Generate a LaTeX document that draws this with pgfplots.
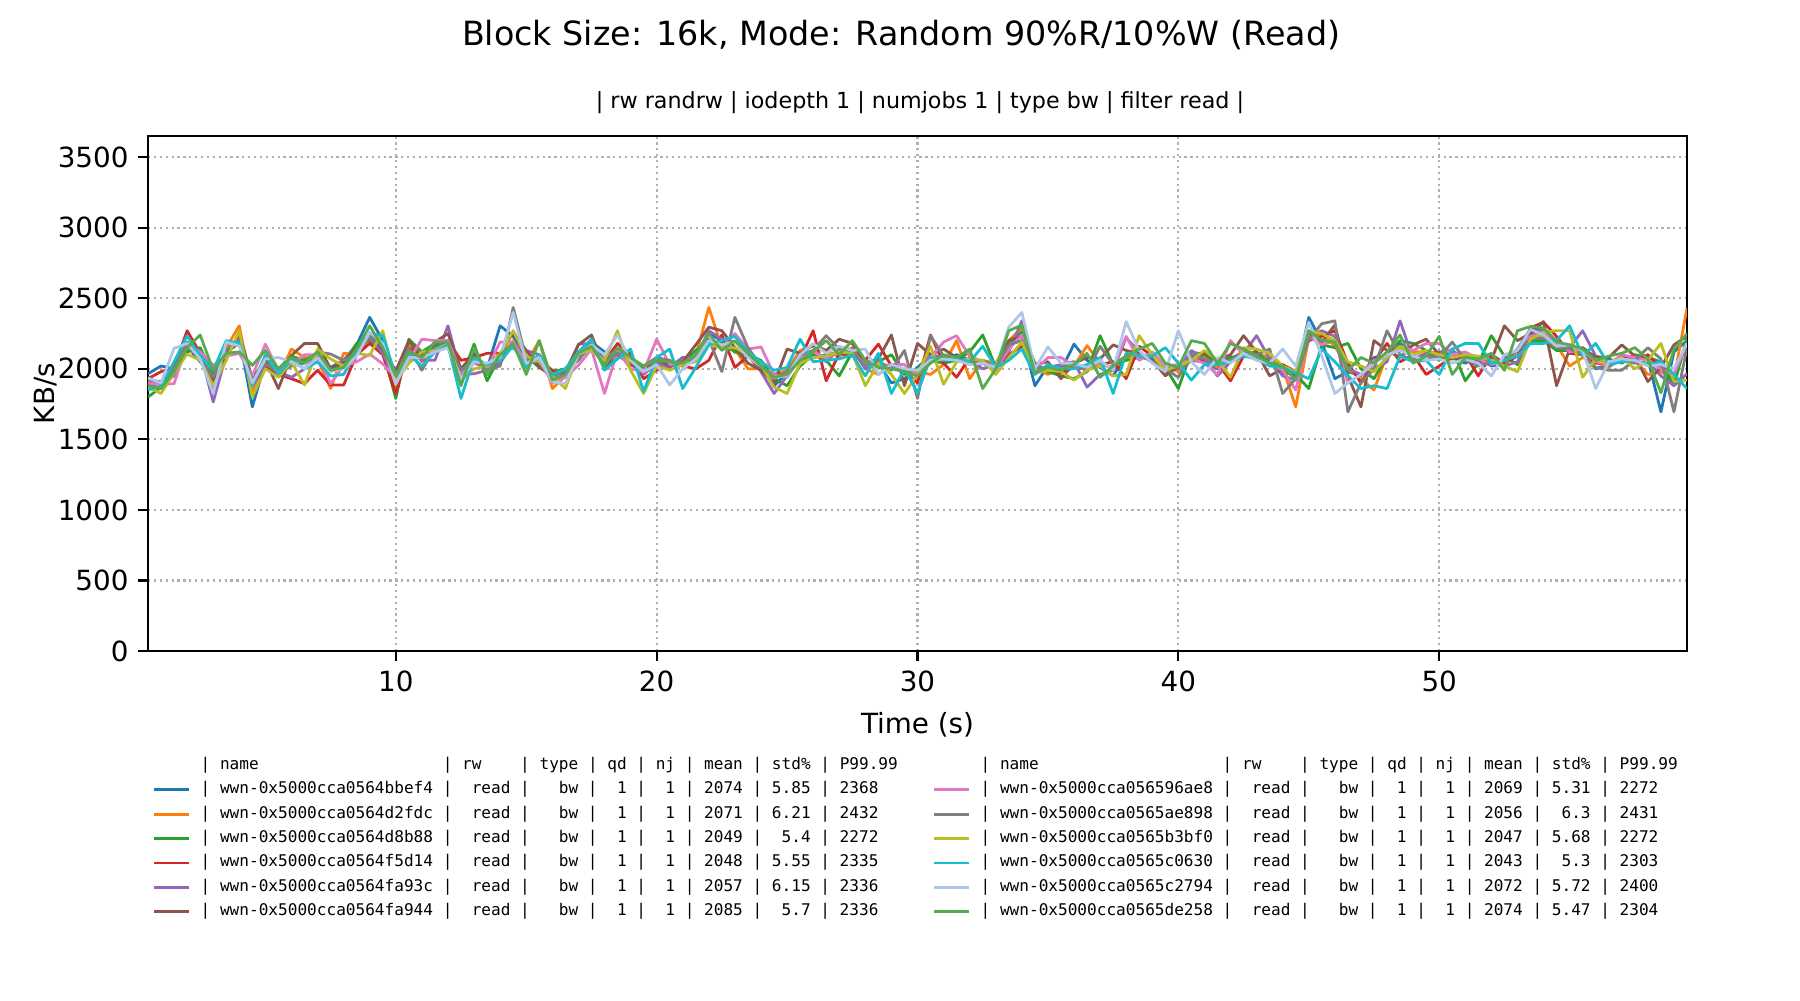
\documentclass[border=0pt]{standalone}
\usepackage{fontspec}
\setmainfont{DejaVu Sans}
\setmonofont{DejaVu Sans Mono}
\usepackage{pgfplots}
\usepackage{pgfplotstable}
\pgfplotsset{compat=1.18}

\definecolor{c1}{HTML}{1F77B4}
\definecolor{c2}{HTML}{FF7F0E}
\definecolor{c3}{HTML}{2CA02C}
\definecolor{c4}{HTML}{D62728}
\definecolor{c5}{HTML}{9467BD}
\definecolor{c6}{HTML}{8C564B}
\definecolor{c7}{HTML}{E377C2}
\definecolor{c8}{HTML}{7F7F7F}
\definecolor{c9}{HTML}{BCBD22}
\definecolor{c10}{HTML}{17BECF}
\definecolor{c11}{HTML}{AEC7E8}
\definecolor{c12}{HTML}{56AB4E}
\definecolor{gridgray}{HTML}{B0B0B0}

% read bandwidth (KB/s), one column per device
\pgfplotstableread{
t    a    b    c    d    e    f    g    h    i    j    k    l
0.5  1965 1890 1800 1930 1880 1910 1900 1920 1870 1850 1935 1880
1.0  2020 1860 1870 1980 1900 1890 1890 1910 1825 1880 1900 1860
1.5  2000 1990 1960 2010 1950 2000 1895 2000 1970 2050 2145 1980
2.0  2160 2130 2120 2270 2150 2180 2180 2190 2105 2235 2180 2150
2.5  2050 2110 2150 2110 2120 2100 2120 2080 2060 2090 2070 2240
3.0  1950 1900 1960 1870 1765 1920 2025 1940 1880 1990 1825 1990
3.5  2100 2150 2120 2110 2100 2080 2090 2140 2060 2200 2190 2110
4.0  2230 2305 2180 2200 2230 2250 2110 2200 2270 2180 2160 2120
4.5  1730 1830 1920 1900 1880 1930 1950 1910 1800 1880 1900 2025
5.0  2050 2080 2050 2010 2030 2060 2175 2040 2000 2100 2070 2130
5.5  1960 1950 2000 1960 1980 1860 1990 1970 1940 1965 2080 2000
6.0  2060 2140 2090 1930 1940 2095 2030 2020 2050 2060 2050 2080
6.5  2050 2080 2060 1895 2000 2180 2100 2040 1885 2000 2000 2040
7.0  2100 2070 2110 1990 2100 2180 2100 2120 2140 2050 2080 2120
7.5  2010 1860 2000 1885 1990 2000 1895 2105 2070 1950 1980 1990
8.0  2060 2110 2040 1885 2060 2050 2020 2060 2020 1960 2000 2010
8.5  2170 2100 2180 2100 2130 2150 2050 2110 2110 2120 2090 2140
9.0  2365 2200 2200 2180 2220 2240 2105 2230 2095 2250 2260 2305
9.5  2200 2150 2130 2100 2110 2140 2035 2160 2270 2235 2180 2150
10.0 1900 1870 1790 1825 1920 1985 1940 1930 1910 1950 1890 1950
10.5 2120 2190 2210 2150 2130 2200 2060 2150 2040 2100 2080 2120
11.0 2080 2050 2120 2100 2060 2080 2210 1990 2120 2020 2080 2080
11.5 2170 2140 2180 2130 2060 2190 2200 2150 2130 2120 2120 2190
12.0 2190 2200 2150 2200 2305 2250 2200 2160 2180 2170 2150 2190
12.5 1980 1940 1920 2060 1960 2000 1970 1990 1920 1790 1930 1880
13.0 2100 2060 2175 2080 1965 2110 2040 2060 2000 2080 2050 2150
13.5 2000 2010 1915 2110 1990 1960 2000 1990 2020 2030 2040 1960
14.0 2305 2080 2090 2110 2040 2100 2190 2020 2110 2060 2080 2100
14.5 2230 2200 2170 2150 2180 2260 2190 2435 2270 2160 2400 2180
15.0 2060 2040 2090 2070 2130 2130 2040 2070 2090 2010 2040 1960
15.5 2040 2200 2010 2060 2100 2010 2060 2080 2050 2100 2080 2200
16.0 1920 1860 1980 1990 1930 1950 1900 1940 1950 1960 1910 1920
16.5 1960 1950 2000 1950 1940 1980 1940 1990 1860 2000 1895 1960
17.0 2070 2100 2080 2100 2175 2170 2025 2060 2110 2120 2100 2110
17.5 2190 2160 2150 2170 2180 2240 2140 2180 2130 2210 2170 2160
18.0 2120 2020 2030 2050 2070 2010 1825 2040 2060 1990 2100 2020
18.5 2100 2120 2110 2180 2140 2100 2130 2110 2270 2070 2240 2150
19.0 2060 2040 2070 2100 2060 2030 2000 2070 1990 2140 2060 2080
19.5 1990 1970 2000 1930 1960 1980 1980 2020 1825 1840 1980 2020
20.0 2020 2060 2040 1990 2040 2080 2210 2080 2020 2080 2030 2060
20.5 2010 2040 2030 2030 2010 2020 2030 2060 1990 2140 1885 2050
21.0 2080 2030 2050 2020 2080 2050 2040 2020 2030 1860 2000 2040
21.5 2060 2090 2130 2000 2080 2170 2090 2080 2050 2010 2070 2100
22.0 2250 2435 2200 2060 2270 2295 2180 2210 2170 2170 2200 2250
22.5 2200 2150 2180 2240 2210 2270 2150 1980 2150 2200 2170 2130
23.0 2120 2140 2120 2010 2190 2150 2250 2365 2150 2230 2190 2200
23.5 2090 2000 2100 2090 2140 2040 2140 2150 2100 2120 2080 2110
24.0 2020 2000 2060 1990 1980 1990 2155 2020 2030 2050 2020 2020
24.5 1880 1960 1930 1960 1825 1900 1960 1930 1870 1990 1940 1940
25.0 1970 1990 1880 1960 1950 2140 1940 1980 1825 2010 1950 1960
25.5 2060 2130 2020 2070 2070 2110 2080 2100 2040 2210 2100 2060
26.0 2080 2160 2100 2270 2130 2170 2120 2130 2080 2050 2180 2120
26.5 2100 2120 2060 1915 2050 2130 2080 2235 2090 2060 2110 2200
27.0 2120 2090 1950 2110 2140 2210 2120 2140 2120 2070 2160 2100
27.5 2100 2150 2120 2090 2140 2180 2120 2120 2110 2100 2130 2200
28.0 2040 2000 2050 2060 2000 2040 2030 2020 1880 1950 2140 2060
28.5 2040 1960 2050 2175 2030 2070 2020 2060 2040 2110 1960 2010
29.0 1900 2030 2100 2020 2010 2240 2030 1990 1960 1825 2030 2000
29.5 1930 1970 1960 1990 1980 1880 2030 2130 1825 2000 2000 1980
30.0 2010 1980 2000 1900 1960 2180 1950 1790 1960 1830 1990 1950
30.5 2090 1960 2060 2240 2100 2100 2080 2235 2160 2080 2060 2040
31.0 2050 2030 2040 2040 2080 2140 2190 2090 1890 2060 2070 2100
31.5 2100 2200 2060 1940 2060 2080 2235 2060 2050 2070 2060 2080
32.0 2060 1930 2120 2080 2070 2040 2090 2060 2070 2050 2030 2140
32.5 2040 2060 2240 2050 2000 2050 2050 2060 2060 2160 2040 1860
33.0 1990 2040 2010 2000 2030 2010 1990 2010 1960 2010 2010 2000
33.5 2160 2200 2190 2100 2120 2200 2140 2170 2080 2060 2295 2270
34.0 2250 2290 2260 2160 2340 2230 2240 2200 2190 2140 2400 2310
34.5 1880 2010 2040 2020 1990 2030 1990 2010 1970 1960 2000 1970
35.0 2020 1960 1980 2000 2010 2050 2080 2010 1990 2030 2155 2010
35.5 1990 2010 1950 1970 2030 1930 2080 2010 1980 2000 2040 1990
36.0 2175 2020 1930 2010 2050 2040 2020 2050 1920 2000 2040 2030
36.5 2060 2165 1980 2000 1870 2080 2010 1980 1990 2030 2010 2110
37.0 2010 2040 2235 2030 1960 2070 2040 2160 2020 2080 2060 1940
37.5 1950 2000 2030 2050 1990 2170 2010 2030 1950 1825 1990 2020
38.0 2100 2080 2060 1930 2220 2130 2230 2090 1960 2110 2335 2090
38.5 2100 2090 2080 2160 2120 2110 2060 2100 2235 2090 2130 2140
39.0 2050 2080 2070 2090 2060 2060 2120 2050 2100 2090 2040 2180
39.5 2000 2020 2010 1960 2010 1950 2020 2000 1990 2150 1980 2040
40.0 1990 1980 1860 2020 2000 2020 2030 1940 2020 2040 2270 2010
40.5 2060 2070 2120 2060 2130 2080 2070 2100 2060 1920 2050 2200
41.0 2060 2080 2100 2050 2070 2110 2040 2070 2130 2030 1960 2180
41.5 2000 2010 2040 2040 1950 2060 1960 2030 2060 2030 2080 2040
42.0 2070 2060 2080 1915 2050 2100 2200 2060 1940 2050 2040 2180
42.5 2120 2130 2100 2090 2110 2235 2100 2120 2150 2090 2110 2140
43.0 2100 2110 2120 2090 2235 2120 2080 2100 2140 2070 2060 2090
43.5 2060 2080 2040 2030 2070 1950 2040 2140 2110 2020 2040 2040
44.0 2000 2010 1970 2030 1950 2000 1990 1825 2020 2010 2140 2020
44.5 1940 1730 1960 1980 1920 1960 1850 1930 1980 1970 2020 1920
45.0 2365 2220 1860 2200 2230 2250 2230 2210 2270 1930 2330 2270
45.5 2190 2250 2170 2230 2270 2190 2170 2320 2250 2140 2090 2200
46.0 1930 2160 2150 2270 2230 2310 2200 2340 2200 2050 1825 2190
46.5 1980 2000 2180 2040 2000 1950 1900 1695 2050 1950 1900 1990
47.0 1950 1930 2000 1900 1960 1730 1960 1900 2020 1860 1960 2080
47.5 2080 1850 1930 2050 2000 2200 2060 2000 1980 1880 2040 2040
48.0 2090 2100 2090 2180 2050 2130 2080 2270 2080 1860 2100 2120
48.5 2180 2140 2200 2050 2340 2080 2160 2100 2160 2090 2130 2240
49.0 2090 2120 2180 2100 2070 2170 2130 2060 2100 2050 2090 2040
49.5 2060 2120 2130 1960 2110 2210 2180 2090 2130 2060 2060 2090
50.0 2080 2090 2060 2020 2120 2100 2180 2080 2100 1960 2070 2230
50.5 2080 2070 2140 2080 2130 2070 2100 2190 2080 2140 2040 1960
51.0 2040 2090 1915 2100 2070 2080 2120 2060 2100 2180 2070 2080
51.5 2080 2060 2040 1950 2020 2050 2070 2030 2090 2180 2040 2070
52.0 2020 2080 2235 2100 2040 2060 2030 2040 2060 2040 1950 2110
52.5 2030 2050 2090 2040 2020 2305 2060 2070 2020 2060 2100 1990
53.0 2140 2100 2030 2090 2050 2200 2140 2130 1980 2090 2130 2270
53.5 2280 2230 2200 2290 2240 2250 2230 2210 2210 2180 2280 2300
54.0 2270 2240 2200 2330 2280 2335 2250 2220 2260 2180 2240 2290
54.5 2150 2170 2130 2230 2200 1880 2200 2150 2270 2200 2160 2190
55.0 2150 2020 2130 2110 2150 2140 2120 2140 2270 2305 2170 2170
55.5 2110 2080 2100 2100 2270 2150 2130 2100 1940 2090 2130 2140
56.0 2000 2050 2090 2040 2090 2080 2050 2010 2070 2180 1860 2060
56.5 2030 2010 2070 2040 2020 2080 2030 1990 2030 2030 2050 2090
57.0 2060 2080 2040 2090 2060 2170 2100 1990 2080 2050 2070 2110
57.5 2080 2060 2100 2060 2040 2090 2080 2060 2000 2060 2060 2150
58.0 2070 1960 2080 2100 2050 1910 2060 2150 2060 2030 2020 2070
58.5 1695 1980 2050 2000 1950 2010 2000 2070 2180 2050 2030 1830
59.0 2120 1930 1880 2000 1880 2170 1960 1695 1910 1960 2000 2140
59.5 2200 2430 2220 2150 1965 2230 2180 2150 1920 1860 2180 2250
}\bwdata

\begin{document}
\begin{tikzpicture}
\path[use as bounding box] (-53.28pt,-125.64pt) rectangle (594.72pt,234.36pt);
\begin{axis}[
  at={(0pt,0pt)}, anchor=south west,
  scale only axis, width=554.04pt, height=185.4pt,
  xmin=0.5, xmax=59.5, ymin=0, ymax=3650,
  xtick={10,20,30,40,50},
  ytick={0,500,1000,1500,2000,2500,3000,3500},
  scaled ticks=false,
  tick pos=left, tick align=outside,
  major tick length=3.5pt,
  every tick/.style={black, line width=0.8pt},
  axis line style={line width=0.8pt},
  grid=major,
  grid style={gridgray, line width=0.8pt, dash pattern=on 0.8pt off 1.32pt},
  tick label style={font=\fontsize{10}{12}\selectfont},
  /pgf/number format/assume math mode=true,
  /pgf/number format/1000 sep={},
  xlabel={Time (s)}, ylabel={KB/s},
  label style={font=\fontsize{10}{12}\selectfont},
  xlabel style={at={(axis description cs:0.5,-0.1427)}, anchor=center},
  ylabel style={at={(axis description cs:-0.0663,0.5)}, anchor=center},
  legend columns=2,
  legend cell align=left,
  legend image code/.code={\draw[#1] (0pt,0pt) -- (12.6pt,0pt);},
  legend style={
    draw=none, fill=none, inner sep=0pt, outer sep=0pt,
    at={(0.0032,-0.2066)}, anchor=north west,
    font=\ttfamily\fontsize{5.79}{7}\selectfont,
    row sep=3.08pt,
    nodes={inner sep=0pt, text height=4.3pt, text depth=1.4pt},
    /tikz/every odd column/.append style={column sep=3.6pt},
    /tikz/every even column/.append style={column sep=12.6pt},
  },
  every axis plot/.append style={line width=1pt, line join=round, forget plot},
]
\addplot[c1]  table[x=t, y=a] {\bwdata};
\addplot[c2]  table[x=t, y=b] {\bwdata};
\addplot[c3]  table[x=t, y=c] {\bwdata};
\addplot[c4]  table[x=t, y=d] {\bwdata};
\addplot[c5]  table[x=t, y=e] {\bwdata};
\addplot[c6]  table[x=t, y=f] {\bwdata};
\addplot[c7]  table[x=t, y=g] {\bwdata};
\addplot[c8]  table[x=t, y=h] {\bwdata};
\addplot[c9]  table[x=t, y=i] {\bwdata};
\addplot[c10] table[x=t, y=j] {\bwdata};
\addplot[c11] table[x=t, y=k] {\bwdata};
\addplot[c12] table[x=t, y=l] {\bwdata};

\addlegendimage{empty legend}
\addlegendentry{|~name~~~~~~~~~~~~~~~~~~~|~rw~~~~|~type~|~qd~|~nj~|~mean~|~std\%~|~P99.99}
\addlegendimage{empty legend}
\addlegendentry{|~name~~~~~~~~~~~~~~~~~~~|~rw~~~~|~type~|~qd~|~nj~|~mean~|~std\%~|~P99.99}
\addlegendimage{c1, line width=1pt}
\addlegendentry{|~wwn-0x5000cca0564bbef4~|~~read~|~~~bw~|~~1~|~~1~|~2074~|~5.85~|~2368}
\addlegendimage{c7, line width=1pt}
\addlegendentry{|~wwn-0x5000cca056596ae8~|~~read~|~~~bw~|~~1~|~~1~|~2069~|~5.31~|~2272}
\addlegendimage{c2, line width=1pt}
\addlegendentry{|~wwn-0x5000cca0564d2fdc~|~~read~|~~~bw~|~~1~|~~1~|~2071~|~6.21~|~2432}
\addlegendimage{c8, line width=1pt}
\addlegendentry{|~wwn-0x5000cca0565ae898~|~~read~|~~~bw~|~~1~|~~1~|~2056~|~~6.3~|~2431}
\addlegendimage{c3, line width=1pt}
\addlegendentry{|~wwn-0x5000cca0564d8b88~|~~read~|~~~bw~|~~1~|~~1~|~2049~|~~5.4~|~2272}
\addlegendimage{c9, line width=1pt}
\addlegendentry{|~wwn-0x5000cca0565b3bf0~|~~read~|~~~bw~|~~1~|~~1~|~2047~|~5.68~|~2272}
\addlegendimage{c4, line width=1pt}
\addlegendentry{|~wwn-0x5000cca0564f5d14~|~~read~|~~~bw~|~~1~|~~1~|~2048~|~5.55~|~2335}
\addlegendimage{c10, line width=1pt}
\addlegendentry{|~wwn-0x5000cca0565c0630~|~~read~|~~~bw~|~~1~|~~1~|~2043~|~~5.3~|~2303}
\addlegendimage{c5, line width=1pt}
\addlegendentry{|~wwn-0x5000cca0564fa93c~|~~read~|~~~bw~|~~1~|~~1~|~2057~|~6.15~|~2336}
\addlegendimage{c11, line width=1pt}
\addlegendentry{|~wwn-0x5000cca0565c2794~|~~read~|~~~bw~|~~1~|~~1~|~2072~|~5.72~|~2400}
\addlegendimage{c6, line width=1pt}
\addlegendentry{|~wwn-0x5000cca0564fa944~|~~read~|~~~bw~|~~1~|~~1~|~2085~|~~5.7~|~2336}
\addlegendimage{c12, line width=1pt}
\addlegendentry{|~wwn-0x5000cca0565de258~|~~read~|~~~bw~|~~1~|~~1~|~2074~|~5.47~|~2304}
\end{axis}
\node[font=\fontsize{12}{14}\selectfont] at (271.1pt,221.9pt) {Block Size: 16k, Mode: Random 90\%R/10\%W (Read)};
\node[font=\fontsize{8}{10}\selectfont] at (277.9pt,197.5pt) {| rw randrw | iodepth 1 | numjobs 1 | type bw | filter read |};
\end{tikzpicture}
\end{document}
